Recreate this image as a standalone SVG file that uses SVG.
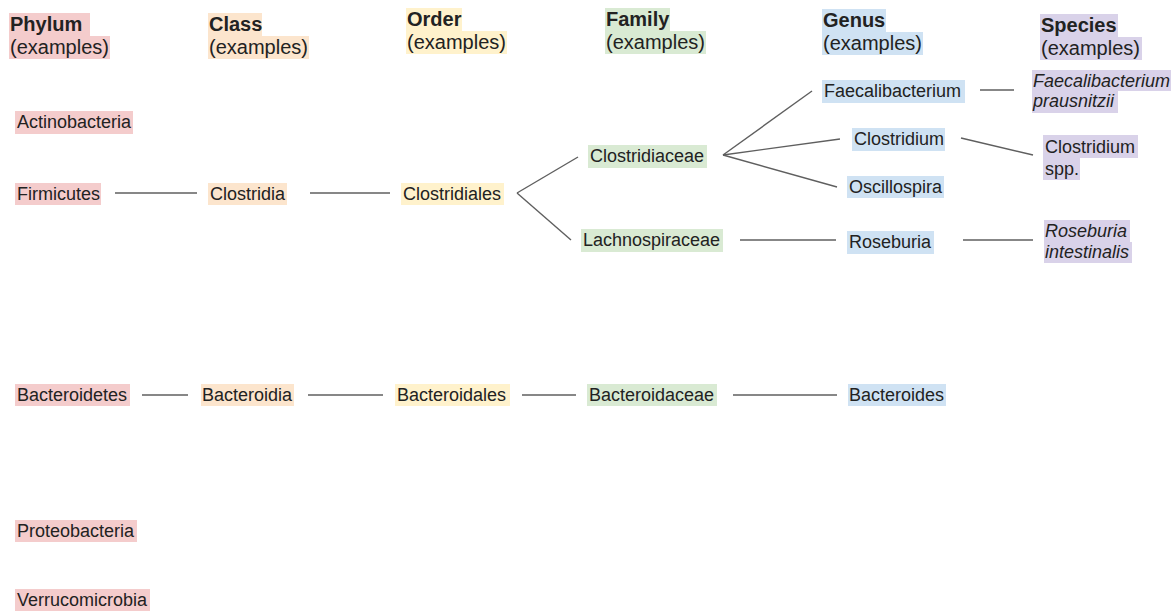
<svg xmlns="http://www.w3.org/2000/svg" width="1176" height="613" viewBox="0 0 1176 613">
<style>
text{font-family:"Liberation Sans",Arial,sans-serif;fill:#222;}
.h{font-size:20px;}
.b{font-weight:bold;}
.t{font-size:18px;}
.i{font-style:italic;}
.ph{fill:#f4cccc;}
.cl{fill:#fce5cd;}
.or{fill:#fff2cc;}
.fa{fill:#d9ead3;}
.ge{fill:#cfe2f3;}
.sp{fill:#d9d2e9;}
.c line{stroke:#5f5f5f;stroke-width:1.4;fill:none;}
</style>
<rect width="1176" height="613" fill="#fff"/>
<g id="headers">
<g id="h-phylum"><rect class="ph" x="9" y="13" width="81" height="23"/><rect class="ph" x="9" y="36" width="101" height="23"/><text class="h b" x="10" y="31">Phylum</text><text class="h" x="10" y="54">(examples)</text></g>
<g id="h-class"><rect class="cl" x="208" y="13" width="54" height="23"/><rect class="cl" x="208" y="36" width="101" height="23"/><text class="h b" x="209" y="31">Class</text><text class="h" x="209" y="54">(examples)</text></g>
<g id="h-order"><rect class="or" x="406" y="8" width="56" height="23"/><rect class="or" x="406" y="31" width="101" height="23"/><text class="h b" x="407" y="26">Order</text><text class="h" x="407" y="49">(examples)</text></g>
<g id="h-family"><rect class="fa" x="605" y="8" width="65" height="23"/><rect class="fa" x="605" y="31" width="101" height="23"/><text class="h b" x="606" y="26">Family</text><text class="h" x="606" y="49">(examples)</text></g>
<g id="h-genus"><rect class="ge" x="822" y="9" width="64" height="23"/><rect class="ge" x="822" y="32" width="101" height="23"/><text class="h b" x="823" y="27">Genus</text><text class="h" x="823" y="50">(examples)</text></g>
<g id="h-species"><rect class="sp" x="1040" y="14" width="78" height="23"/><rect class="sp" x="1040" y="37" width="102" height="23"/><text class="h b" x="1041" y="32">Species</text><text class="h" x="1041" y="55">(examples)</text></g>
</g>
<g class="c" id="connectors">
<line x1="115" y1="193" x2="197" y2="193"/>
<line x1="310" y1="193" x2="390" y2="193"/>
<line x1="517" y1="193" x2="578" y2="157"/>
<line x1="517" y1="193" x2="571" y2="240"/>
<line x1="723" y1="155" x2="812" y2="91"/>
<line x1="723" y1="155" x2="840" y2="139"/>
<line x1="723" y1="155" x2="837" y2="187"/>
<line x1="740" y1="240" x2="836" y2="240"/>
<line x1="980" y1="90" x2="1014" y2="90"/>
<line x1="961" y1="138" x2="1033" y2="155"/>
<line x1="963" y1="240" x2="1033" y2="240"/>
<line x1="142" y1="395" x2="188" y2="395"/>
<line x1="308" y1="395" x2="383" y2="395"/>
<line x1="522" y1="395" x2="576" y2="395"/>
<line x1="733" y1="395" x2="837" y2="395"/>
</g>
<g id="n-actinobacteria"><rect class="ph" x="15" y="111" width="118" height="23"/><text class="t" x="17" y="128">Actinobacteria</text></g>
<g id="n-firmicutes"><rect class="ph" x="15" y="183" width="86" height="22"/><text class="t" x="17" y="200">Firmicutes</text></g>
<g id="n-clostridia"><rect class="cl" x="208" y="183" width="79" height="22"/><text class="t" x="210" y="200">Clostridia</text></g>
<g id="n-clostridiales"><rect class="or" x="401" y="183" width="103" height="22"/><text class="t" x="403" y="200">Clostridiales</text></g>
<g id="n-clostridiaceae"><rect class="fa" x="588" y="145" width="119" height="23"/><text class="t" x="590" y="162">Clostridiaceae</text></g>
<g id="n-lachnospiraceae"><rect class="fa" x="581" y="229" width="142" height="23"/><text class="t" x="583" y="246">Lachnospiraceae</text></g>
<g id="n-faecalibacterium"><rect class="ge" x="822" y="80" width="143" height="23"/><text class="t" x="824" y="97">Faecalibacterium</text></g>
<g id="n-clostridium"><rect class="ge" x="852" y="128" width="93" height="23"/><text class="t" x="854" y="145">Clostridium</text></g>
<g id="n-oscillospira"><rect class="ge" x="847" y="176" width="97" height="22"/><text class="t" x="849" y="193">Oscillospira</text></g>
<g id="n-roseburia"><rect class="ge" x="847" y="231" width="87" height="23"/><text class="t" x="849" y="248">Roseburia</text></g>
<g id="n-f-prausnitzii"><rect class="sp" x="1032" y="70" width="139" height="21"/><rect class="sp" x="1032" y="91" width="86" height="22"/><text class="t i" x="1033" y="87">Faecalibacterium</text><text class="t i" x="1033" y="107">prausnitzii</text></g>
<g id="n-clostridium-spp"><rect class="sp" x="1043" y="135" width="95" height="23"/><rect class="sp" x="1043" y="158" width="37" height="22"/><text class="t" x="1045" y="153">Clostridium</text><text class="t" x="1045" y="175">spp.</text></g>
<g id="n-r-intestinalis"><rect class="sp" x="1044" y="220" width="86" height="22"/><rect class="sp" x="1044" y="242" width="88" height="21"/><text class="t i" x="1045" y="237">Roseburia</text><text class="t i" x="1045" y="258">intestinalis</text></g>
<g id="n-bacteroidetes"><rect class="ph" x="15" y="384" width="115" height="22"/><text class="t" x="17" y="401">Bacteroidetes</text></g>
<g id="n-bacteroidia"><rect class="cl" x="201" y="384" width="93" height="22"/><text class="t" x="202" y="401">Bacteroidia</text></g>
<g id="n-bacteroidales"><rect class="or" x="395" y="384" width="115" height="22"/><text class="t" x="397" y="401">Bacteroidales</text></g>
<g id="n-bacteroidaceae"><rect class="fa" x="587" y="384" width="130" height="22"/><text class="t" x="589" y="401">Bacteroidaceae</text></g>
<g id="n-bacteroides"><rect class="ge" x="848" y="384" width="98" height="22"/><text class="t" x="849" y="401">Bacteroides</text></g>
<g id="n-proteobacteria"><rect class="ph" x="15" y="520" width="122" height="22"/><text class="t" x="17" y="537">Proteobacteria</text></g>
<g id="n-verrucomicrobia"><rect class="ph" x="15" y="589" width="135" height="22"/><text class="t" x="17" y="606">Verrucomicrobia</text></g>
</svg>
